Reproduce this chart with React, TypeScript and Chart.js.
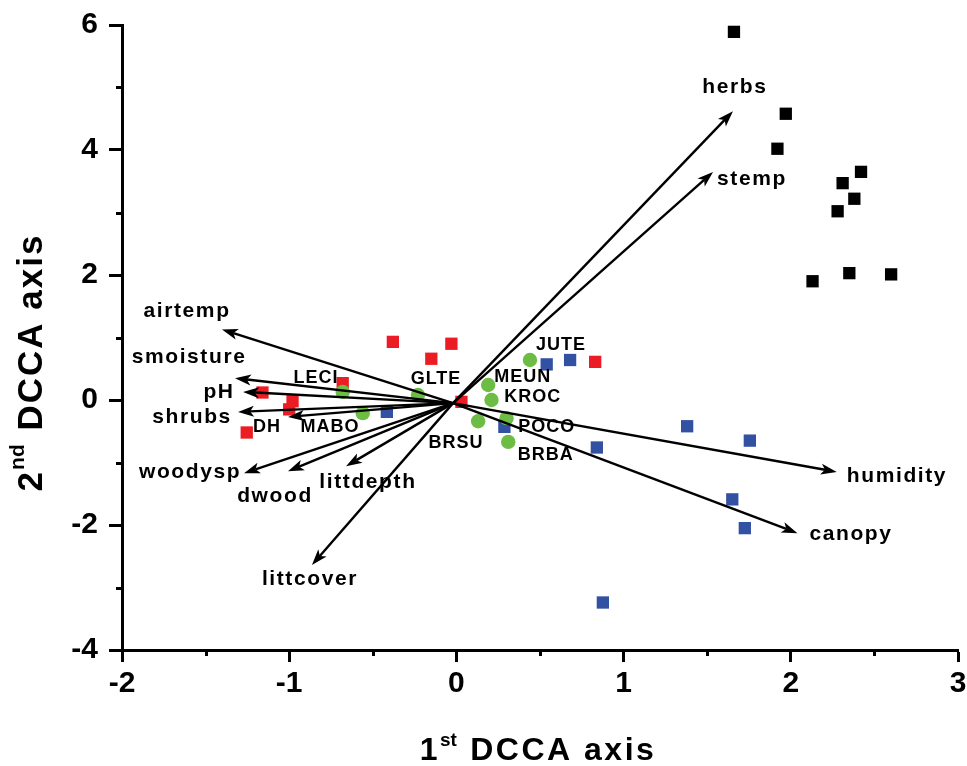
import { useEffect, useRef } from 'react';
import { Chart, registerables } from 'chart.js';

Chart.register(...registerables);

// ---------- axes ----------
const xTicks = [-2, -1, 0, 1, 2, 3];
const yTicks = [-4, -2, 0, 2, 4, 6];
const xMinorTicks = [-1.5, -0.5, 0.5, 1.5, 2.5];
const yMinorTicks = [-3, -1, 1, 3, 5];
const xTitleMain = '1';
const xTitleSup = 'st';
const xTitleRest = ' DCCA axis';
const yTitleMain = '2';
const yTitleSup = 'nd';
const yTitleRest = ' DCCA axis';

// ---------- sample scores ----------
const blackX = [1.66, 1.97, 1.92, 2.42, 2.31, 2.38, 2.28, 2.13, 2.35, 2.6];
const blackY = [5.89, 4.58, 4.02, 3.65, 3.47, 3.22, 3.02, 1.9, 2.03, 2.01];
const blueX = [1.38, 1.755, 0.84, 1.65, 1.725, 0.876, 0.54, 0.68, 0.287, -0.416];
const blueY = [-0.42, -0.65, -0.76, -1.59, -2.05, -3.24, 0.57, 0.64, -0.43, -0.19];
const redX = [-0.03, -0.15, 0.83, 0.03, -0.38, -0.68, -1.16, -0.98, -1.0, -1.254];
const redY = [0.9, 0.66, 0.61, -0.03, 0.93, 0.27, 0.12, -0.02, -0.15, -0.52];
const greenX = [0.44, 0.19, 0.21, 0.13, 0.3, 0.31, -0.23, -0.68, -0.56];
const greenY = [0.64, 0.24, 0.0, -0.34, -0.29, -0.67, 0.08, 0.13, -0.21];

// ---------- environmental vectors ----------
const arrowOrigin = [-0.02, -0.05];
const arrowNames = ['herbs', 'stemp', 'airtemp', 'smoisture', 'pH', 'shrubs', 'DH', 'woodysp', 'dwood', 'littdepth', 'littcover', 'humidity', 'canopy'];
const arrowTipX = [1.654, 1.535, -1.402, -1.324, -1.276, -1.306, -1.007, -1.27, -1.007, -0.66, -0.864, 2.275, 2.04];
const arrowTipY = [4.62, 3.65, 1.13, 0.35, 0.13, -0.19, -0.27, -1.17, -1.14, -1.06, -2.64, -1.15, -2.13];
const arrowLabelX = [1.666, 1.768, -1.611, -1.599, -1.42, -1.581, -1.133, -1.593, -1.085, -0.529, -0.876, 2.635, 2.36];
const arrowLabelY = [4.91, 3.44, 1.33, 0.59, 0.03, -0.37, -0.51, -1.25, -1.63, -1.41, -2.96, -1.31, -2.24];

// ---------- species labels ----------
const speciesNames = ['LECI', 'GLTE', 'JUTE', 'MEUN', 'KROC', 'POCO', 'BRSU', 'BRBA', 'MABO'];
const speciesLabelX = [-0.84, -0.122, 0.626, 0.397, 0.457, 0.541, -0.002, 0.535, -0.756];
const speciesLabelY = [0.27, 0.26, 0.8, 0.29, -0.03, -0.51, -0.77, -0.96, -0.51];

const FONT = "'Liberation Sans', Arial, Helvetica, sans-serif";

const zip = (xs: number[], ys: number[]) => xs.map((x, i) => ({ x, y: ys[i] }));

const overlayPlugin = {
  id: 'overlay',
  afterDatasetsDraw(chart: any) {
    const ctx = chart.ctx as CanvasRenderingContext2D;
    const xs = chart.scales.x;
    const ys = chart.scales.y;
    const ox = xs.getPixelForValue(arrowOrigin[0]);
    const oy = ys.getPixelForValue(arrowOrigin[1]);
    ctx.save();
    ctx.strokeStyle = '#000';
    ctx.fillStyle = '#000';
    ctx.lineWidth = 2.4;
    ctx.lineCap = 'butt';
    arrowNames.forEach((_, i) => {
      const tx = xs.getPixelForValue(arrowTipX[i]);
      const ty = ys.getPixelForValue(arrowTipY[i]);
      const dx = tx - ox;
      const dy = ty - oy;
      const len = Math.hypot(dx, dy);
      const ux = dx / len;
      const uy = dy / len;
      const hl = 16;
      const hw = 5.5;
      const bx = tx - ux * hl;
      const by = ty - uy * hl;
      const nx = tx - ux * hl * 0.75;
      const ny = ty - uy * hl * 0.75;
      ctx.beginPath();
      ctx.moveTo(ox, oy);
      ctx.lineTo(nx, ny);
      ctx.stroke();
      ctx.beginPath();
      ctx.moveTo(tx, ty);
      ctx.lineTo(bx - uy * hw, by + ux * hw);
      ctx.lineTo(nx, ny);
      ctx.lineTo(bx + uy * hw, by - ux * hw);
      ctx.closePath();
      ctx.fill();
    });

    ctx.textAlign = 'center';
    ctx.textBaseline = 'alphabetic';
    // arrow labels
    arrowNames.forEach((name, i) => {
      const size = name === 'DH' ? 18 : 21;
      ctx.font = `bold ${size}px ${FONT}`;
      (ctx as any).letterSpacing = name === 'DH' ? '1px' : '1.6px';
      ctx.fillText(name, xs.getPixelForValue(arrowLabelX[i]), ys.getPixelForValue(arrowLabelY[i]));
    });
    // species labels
    ctx.font = `bold 18px ${FONT}`;
    (ctx as any).letterSpacing = '1px';
    speciesNames.forEach((name, i) => {
      ctx.fillText(name, xs.getPixelForValue(speciesLabelX[i]), ys.getPixelForValue(speciesLabelY[i]));
    });
    ctx.restore();
  },
  afterDraw(chart: any) {
    const ctx = chart.ctx as CanvasRenderingContext2D;
    const xs = chart.scales.x;
    const ys = chart.scales.y;
    const area = chart.chartArea;
    ctx.save();
    // minor ticks
    ctx.strokeStyle = '#000';
    ctx.lineWidth = 3;
    xMinorTicks.forEach((v) => {
      const px = Math.round(xs.getPixelForValue(v)) + 0.5;
      ctx.beginPath();
      ctx.moveTo(px, area.bottom);
      ctx.lineTo(px, area.bottom + 6);
      ctx.stroke();
    });
    yMinorTicks.forEach((v) => {
      const py = Math.round(ys.getPixelForValue(v)) + 0.5;
      ctx.beginPath();
      ctx.moveTo(area.left, py);
      ctx.lineTo(area.left - 6, py);
      ctx.stroke();
    });

    ctx.fillStyle = '#000';
    ctx.textAlign = 'left';
    ctx.textBaseline = 'alphabetic';
    const drawTitle = (main: string, sup: string, rest: string, size: number, supSize: number, spacing: number, supRaise: number) => {
      ctx.font = `bold ${size}px ${FONT}`;
      (ctx as any).letterSpacing = `${spacing}px`;
      const wMain = ctx.measureText(main).width;
      const wRest = ctx.measureText(rest).width;
      ctx.font = `bold ${supSize}px ${FONT}`;
      (ctx as any).letterSpacing = '0px';
      const wSup = ctx.measureText(sup).width + 2;
      const total = wMain + wSup + wRest;
      let x = -total / 2;
      ctx.font = `bold ${size}px ${FONT}`;
      (ctx as any).letterSpacing = `${spacing}px`;
      ctx.fillText(main, x, 0);
      x += wMain;
      ctx.font = `bold ${supSize}px ${FONT}`;
      (ctx as any).letterSpacing = '0px';
      ctx.fillText(sup, x, -supRaise);
      x += wSup;
      ctx.font = `bold ${size}px ${FONT}`;
      (ctx as any).letterSpacing = `${spacing}px`;
      ctx.fillText(rest, x, 0);
    };
    // x title
    ctx.save();
    ctx.translate((area.left + area.right) / 2 - 2, area.bottom + 110);
    drawTitle(xTitleMain, xTitleSup, xTitleRest, 32, 19, 2.5, 14);
    ctx.restore();
    // y title
    ctx.save();
    ctx.translate(area.left - 80, (area.top + area.bottom) / 2 + 25);
    ctx.rotate(-Math.PI / 2);
    drawTitle(yTitleMain, yTitleSup, yTitleRest, 35, 21, 2, 18);
    ctx.restore();
    ctx.restore();
  },
};

export default function App() {
  const canvasRef = useRef<HTMLCanvasElement | null>(null);

  useEffect(() => {
    if (!canvasRef.current) return;
    const tickFont = { family: FONT, size: 30, weight: 'bold' as const };
    const chart = new Chart(canvasRef.current, {
      type: 'scatter',
      data: {
        datasets: [
          { label: 'species', data: zip(greenX, greenY), pointStyle: 'circle', pointRadius: 7.2, backgroundColor: '#6dbd45', borderWidth: 0 },
          { label: 'red', data: zip(redX, redY), pointStyle: 'rect', pointRadius: 8.7, backgroundColor: '#ec1c24', borderWidth: 0 },
          { label: 'blue', data: zip(blueX, blueY), pointStyle: 'rect', pointRadius: 8.7, backgroundColor: '#3251a2', borderWidth: 0 },
          { label: 'black', data: zip(blackX, blackY), pointStyle: 'rect', pointRadius: 8.7, backgroundColor: '#000000', borderWidth: 0 },
        ],
      },
      options: {
        responsive: false,
        animation: false,
        devicePixelRatio: 1,
        events: [],
        layout: { padding: { top: 25, right: 9, left: 0, bottom: 0 } },
        plugins: { legend: { display: false }, tooltip: { enabled: false }, title: { display: false } },
        scales: {
          x: {
            type: 'linear',
            position: 'bottom',
            min: xTicks[0],
            max: xTicks[xTicks.length - 1],
            afterBuildTicks: (s: any) => {
              s.ticks = xTicks.map((v) => ({ value: v }));
            },
            afterFit: (s: any) => {
              s.height = 116;
              s.paddingLeft = 0;
              s.paddingRight = 0;
            },
            ticks: { font: tickFont, color: '#000', padding: 4, maxRotation: 0, autoSkip: false, callback: (v: any) => String(v) },
            grid: { drawOnChartArea: false, drawTicks: true, tickLength: 12, tickWidth: 3, tickColor: '#000' },
            border: { display: true, color: '#000', width: 3 },
          },
          y: {
            type: 'linear',
            position: 'left',
            min: yTicks[0],
            max: yTicks[yTicks.length - 1],
            afterBuildTicks: (s: any) => {
              s.ticks = yTicks.map((v) => ({ value: v }));
            },
            afterFit: (s: any) => {
              s.width = 122;
              s.paddingTop = 0;
              s.paddingBottom = 0;
            },
            ticks: { font: tickFont, color: '#000', padding: 11, autoSkip: false, callback: (v: any) => String(v) },
            grid: { drawOnChartArea: false, drawTicks: true, tickLength: 13, tickWidth: 3, tickColor: '#000' },
            border: { display: true, color: '#000', width: 3 },
          },
        },
      },
      plugins: [overlayPlugin],
    });
    return () => chart.destroy();
  }, []);

  return (
    <div style={{ position: 'fixed', left: 0, top: 0, width: 967, height: 766, background: '#fff' }}>
      <canvas ref={canvasRef} width={967} height={766} style={{ display: 'block' }} />
    </div>
  );
}
